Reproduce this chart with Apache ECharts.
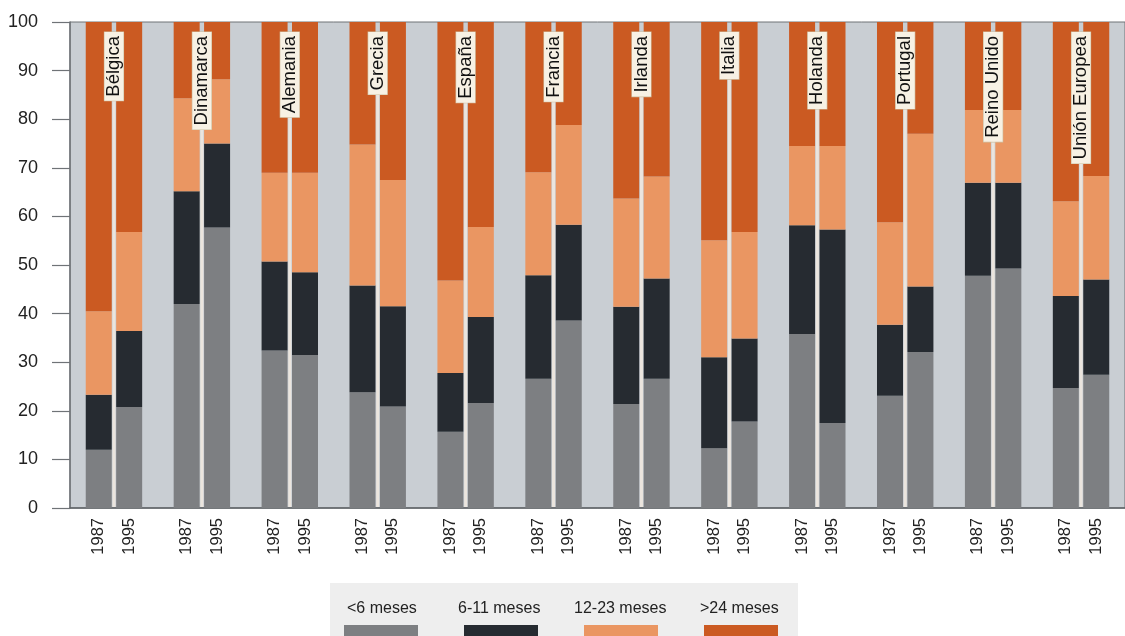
<!DOCTYPE html>
<html>
<head>
<meta charset="utf-8">
<script src="https://cdn.jsdelivr.net/npm/echarts@6/dist/echarts.min.js"></script>
<style>
html,body{margin:0;padding:0;background:#ffffff;}
#chart{width:1125px;height:636px;}
</style>
</head>
<body>
<div id="chart"></div>
<script>
const countries = ['Bélgica','Dinamarca','Alemania','Grecia','España','Francia','Irlanda','Italia','Holanda','Portugal','Reino Unido','Unión Europea'];
const years = ['1987','1995'];
const yTicks = [0,10,20,30,40,50,60,70,80,90,100];
const legendNames = ['<6 meses','6-11 meses','12-23 meses','>24 meses'];

// 1987 shares (%)
const lt6_1987   = [12.0, 42.0, 32.4, 23.8, 15.7, 26.6, 21.4, 12.3, 35.8, 23.1, 47.8, 24.7];
const m6_11_1987 = [11.3, 23.2, 18.3, 22.0, 12.1, 21.3, 20.0, 18.7, 22.4, 14.6, 19.1, 18.9];
const m12_23_1987= [17.2, 19.1, 18.3, 29.0, 19.0, 21.2, 22.3, 24.1, 16.3, 21.1, 15.0, 19.5];
const gt24_1987  = [59.5, 15.7, 31.0, 25.2, 53.2, 30.9, 36.3, 44.9, 25.5, 41.2, 18.1, 36.9];
// 1995 shares (%)
const lt6_1995   = [20.8, 57.7, 31.5, 20.9, 21.6, 38.6, 26.6, 17.8, 17.5, 32.1, 49.3, 27.4];
const m6_11_1995 = [15.6, 17.3, 17.0, 20.6, 17.7, 19.7, 20.6, 17.1, 39.8, 13.5, 17.6, 19.6];
const m12_23_1995= [20.4, 13.2, 20.5, 26.0, 18.5, 20.5, 21.0, 21.9, 17.2, 31.4, 15.0, 21.3];
const gt24_1995  = [43.2, 11.8, 31.0, 32.5, 42.2, 21.2, 31.8, 43.2, 25.5, 23.0, 18.1, 31.7];

const colors = ['#7d7f82','#262b31','#ea9662','#cb5a22'];
const FONT = "'Liberation Sans', Arial, Helvetica, sans-serif";

const byYear = {
  '1987': [lt6_1987, m6_11_1987, m12_23_1987, gt24_1987],
  '1995': [lt6_1995, m6_11_1995, m12_23_1995, gt24_1995]
};

const series = [];
years.forEach(function (yr) {
  byYear[yr].forEach(function (arr, k) {
    const s = {
      type: 'bar',
      name: legendNames[k],
      stack: 's' + yr,
      data: arr,
      barWidth: 26,
      barGap: '17%',
      itemStyle: { color: colors[k] },
      emphasis: { disabled: true }
    };
    if (k === 0) {
      s.label = {
        show: true,
        position: 'bottom',
        distance: 10,
        rotate: 90,
        align: 'right',
        verticalAlign: 'middle',
        formatter: yr,
        color: '#222',
        fontSize: 16.5,
        fontFamily: FONT
      };
    }
    series.push(s);
  });
});

// country name tags with leader lines
series.push({
  type: 'custom',
  name: 'etiquetas',
  coordinateSystem: 'cartesian2d',
  data: countries.map(function (c, i) { return [i, 100]; }),
  encode: { x: 0, y: 1 },
  z: 10,
  silent: true,
  renderItem: function (params, api) {
    const idx = api.value(0);
    const top = api.coord([idx, 100]);
    const bot = api.coord([idx, 0]);
    return {
      type: 'group',
      children: [
        { type: 'line', shape: { x1: top[0], y1: top[1] + 20, x2: bot[0], y2: bot[1] - 1 },
          style: { stroke: '#ebe5de', lineWidth: 3 } },
        { type: 'text', x: top[0], y: top[1] + 10, rotation: Math.PI / 2,
          style: { text: countries[idx], align: 'right', verticalAlign: 'middle',
                   fontSize: 18.5, fontFamily: FONT, fill: '#111',
                   backgroundColor: '#f7f1e4', borderColor: '#cdbf9f', borderWidth: 0.6,
                   padding: [1, 4, 1, 4], lineHeight: 17 } }
      ]
    };
  }
});

const textLegendLeft = [342, 453, 569, 695];
const legends = [{
  data: legendNames,
  left: 330, top: 583,
  padding: [42, 20, 10, 14],
  backgroundColor: '#eeeeee',
  itemWidth: 74, itemHeight: 16, itemGap: 46,
  icon: 'rect',
  selectedMode: false,
  formatter: function () { return ''; },
  textStyle: { fontSize: 1 }
}];
legendNames.forEach(function (n, i) {
  legends.push({
    data: [n],
    left: textLegendLeft[i], top: 601,
    padding: 0,
    itemWidth: 0, itemHeight: 0,
    icon: 'rect',
    selectedMode: false,
    textStyle: { fontSize: 16, fontFamily: FONT, color: '#222' }
  });
});

const chart = echarts.init(document.getElementById('chart'));
chart.setOption({
  animation: false,
  backgroundColor: '#ffffff',
  legend: legends,
  grid: { left: 70, right: -8, top: 22, bottom: 128, show: true,
          backgroundColor: '#c9ced3', borderColor: '#6f7377', borderWidth: 1 },
  xAxis: {
    type: 'category',
    data: countries,
    axisLine: { show: true, lineStyle: { color: '#5f6367', width: 1.5 } },
    axisTick: { show: false },
    axisLabel: { show: false },
    splitLine: { show: false }
  },
  yAxis: {
    type: 'value',
    min: yTicks[0], max: yTicks[yTicks.length - 1], interval: 10,
    axisLine: { show: true, lineStyle: { color: '#6f7377', width: 1.5 } },
    axisTick: { show: true, length: 18, lineStyle: { color: '#6f7377', width: 1.2 } },
    axisLabel: { margin: 32, fontSize: 18, fontFamily: FONT, color: '#222' },
    splitLine: { show: false }
  },
  series: series
});
</script>
</body>
</html>
